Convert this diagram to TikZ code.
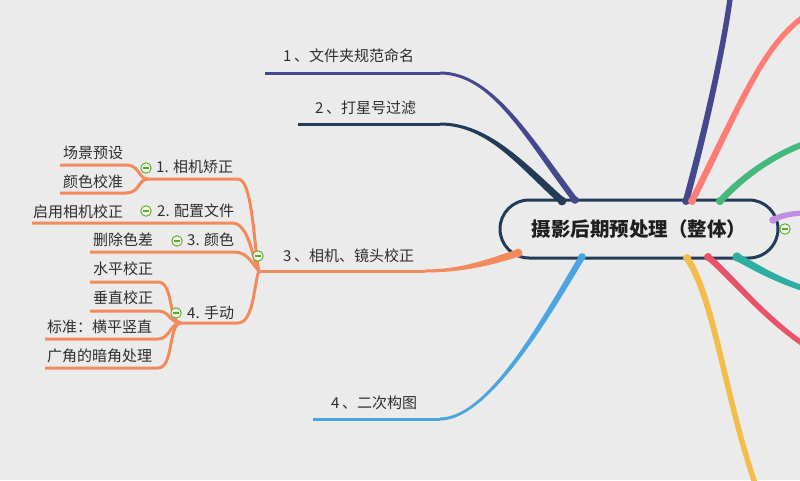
\documentclass[tikz,border=0pt]{standalone}
\usepackage{fontspec}
\setmainfont{Noto Sans CJK SC}
\usetikzlibrary{calc}
\definecolor{bg}{HTML}{EBEBEB}
\definecolor{navy}{HTML}{243B58}
\definecolor{indigo}{HTML}{46488E}
\definecolor{orng}{HTML}{F28A5C}
\definecolor{blu}{HTML}{4AA5E2}
\definecolor{salmon}{HTML}{FF7C74}
\definecolor{grn}{HTML}{45B97C}
\definecolor{lav}{HTML}{BF90E0}
\definecolor{tealb}{HTML}{2DAEA0}
\definecolor{redb}{HTML}{E8526A}
\definecolor{yel}{HTML}{F2BD4B}
\definecolor{txt}{HTML}{2E2E2E}
\definecolor{tog}{HTML}{5EA72E}
\definecolor{togfill}{HTML}{EEF6E6}
% tapered curve: prefix a (start), c, d (controls), b (end at root)
\newcommand\taper[4]{%
  \fill[#1] let \p1=(#2a), \p2=(#2c), \p3=(#2d), \p4=(#2b),
    \n1={atan2(\y2-\y1,\x2-\x1)}, \n2={atan2(\y4-\y3,\x4-\x3)} in
    ($(\p1)+({\n1+90}:#3)$) .. controls ($(\p2)+({\n1+90}:#3)$) and ($(\p3)+({\n2+90}:#4)$) .. ($(\p4)+({\n2+90}:#4)$)
    -- ($(\p4)+({\n2-90}:#4)$) .. controls ($(\p3)+({\n2-90}:#4)$) and ($(\p2)+({\n1-90}:#3)$) .. ($(\p1)+({\n1-90}:#3)$) -- cycle;
  \fill[#1] (#2b) circle[radius=#4+0.8pt];
}
\newcommand\togglebox[2]{%
  \node[toggle] (#1) at (#2) {};
  \draw[tog, line width=1.3pt] ([xshift=2.6pt]#1.west) -- ([xshift=-2.6pt]#1.east);
}
\newcommand\nm[1]{#1\hspace{2.5pt}}
\begin{document}
\begin{tikzpicture}[x=1pt,y=-1pt,
  lbl/.style={font=\fontsize{15}{18}\selectfont, text=txt, inner sep=0pt, anchor=west},
  sub/.style={draw=orng, line width=3pt},
  toggle/.style={circle, draw=tog, line width=0.9pt, fill=togfill, minimum size=10.5pt, inner sep=0pt},
]
\fill[bg] (0,0) rectangle (800,480);
\useasboundingbox (0,0) rectangle (800,480);

% ---------- root ----------
\node[draw=navy, line width=3pt, rounded corners=29pt, minimum width=278pt, minimum height=58pt,
      fill=bg, font=\fontsize{19.5}{23}\selectfont\bfseries, text=black!88] (root) at (639,229) {摄影后期预处理（整体）};

% ---------- left main branches ----------
\coordinate (b1s) at (265,73);  \coordinate (b1a) at (440,73);  \coordinate (b1c) at (492,73);  \coordinate (b1d) at (528,138); \coordinate (b1b) at (575,200);
\coordinate (b2s) at (298,124); \coordinate (b2a) at (440,124); \coordinate (b2c) at (488,124); \coordinate (b2d) at (522,165); \coordinate (b2b) at (562,201);
\coordinate (b3s) at (258,271); \coordinate (b3a) at (425,271); \coordinate (b3c) at (462,271); \coordinate (b3d) at (490,262); \coordinate (b3b) at (518,253);
\coordinate (b4s) at (313,419); \coordinate (b4a) at (440,419); \coordinate (b4c) at (490,419); \coordinate (b4d) at (550,310); \coordinate (b4b) at (582,257);

\draw[indigo, line width=3pt] (b1s) -- (b1a);
\draw[navy, line width=3pt] (b2s) -- (b2a);
\draw[orng, line width=3pt] (b3s) -- (b3a);
\draw[blu, line width=3pt] (b4s) -- (b4a);
\taper{indigo}{b1}{1.5pt}{3pt}
\taper{navy}{b2}{1.5pt}{3.6pt}
\taper{orng}{b3}{1.5pt}{3.6pt}
\taper{blu}{b4}{1.5pt}{3.1pt}

\node[lbl] (t1) at (283,56) {\nm{1}、文件夹规范命名};
\node[lbl] (t2) at (315,108) {\nm{2}、打星号过滤};
\node[lbl] (t3) at (283,256) {\nm{3}、相机、镜头校正};
\node[lbl] (t4) at (331,403) {\nm{4}、二次构图};

% ---------- right main branches ----------
\coordinate (r1a) at (731,-8);  \coordinate (r1c) at (722,60);  \coordinate (r1d) at (700,150); \coordinate (r1b) at (686,201);
\coordinate (r2a) at (812,11);  \coordinate (r2c) at (765,40);  \coordinate (r2d) at (745,95);  \coordinate (r2b) at (692,201);
\coordinate (r3a) at (812,141); \coordinate (r3c) at (770,155); \coordinate (r3d) at (740,180); \coordinate (r3b) at (720,201);
\coordinate (r4a) at (806,213); \coordinate (r4c) at (795,213); \coordinate (r4d) at (781,215); \coordinate (r4b) at (773,220);
\coordinate (r5a) at (812,291); \coordinate (r5c) at (780,282); \coordinate (r5d) at (755,267); \coordinate (r5b) at (737,257);
\coordinate (r6a) at (812,350); \coordinate (r6c) at (765,320); \coordinate (r6d) at (730,275); \coordinate (r6b) at (708,257);
\coordinate (r7a) at (758,492); \coordinate (r7c) at (725,400); \coordinate (r7d) at (715,300); \coordinate (r7b) at (687,258);
\taper{indigo}{r1}{2.7pt}{3.2pt}
\taper{salmon}{r2}{2.7pt}{3.2pt}
\taper{grn}{r3}{3pt}{3.3pt}
\taper{lav}{r4}{2.6pt}{3pt}
\taper{tealb}{r5}{2.8pt}{3.8pt}
\taper{redb}{r6}{2.6pt}{3.2pt}
\taper{yel}{r7}{2.7pt}{3.2pt}

\togglebox{tgr}{785,229}

% ---------- sub branches of 3 ----------
\coordinate (J) at (259,271);
\coordinate (h1) at (148,179);
\coordinate (h4) at (181,323);
\coordinate (s2s) at (32,223);
\coordinate (s3s) at (90,252);
\draw[sub] (h1) -- (238,179) .. controls (253,179) and (254,250) .. (J);
\draw[sub] (s2s) -- (232,223) .. controls (249,223) and (252,258) .. (J);
\draw[sub] (s3s) -- (234,252) .. controls (248,252) and (252,264) .. (J);
\draw[sub] (h4) -- (238,323) .. controls (254,323) and (254,282) .. (J);

\coordinate (u1) at (60,165);
\coordinate (u2) at (60,193);
\draw[sub] (u1) -- (126,165) .. controls (140,165) and (138,179) .. (h1);
\draw[sub] (u2) -- (126,193) .. controls (140,193) and (138,179) .. (h1);

\coordinate (v1) at (90,282);
\coordinate (v2) at (90,311);
\coordinate (v3) at (45,339);
\coordinate (v4) at (45,368);
\draw[sub] (v1) -- (158,282) .. controls (174,282) and (168,323) .. (h4);
\draw[sub] (v2) -- (158,311) .. controls (170,311) and (170,323) .. (h4);
\draw[sub] (v3) -- (158,339) .. controls (170,339) and (170,323) .. (h4);
\draw[sub] (v4) -- (158,368) .. controls (174,368) and (168,323) .. (h4);

% labels
\node[lbl] (n1) at (156,167) {1. 相机矫正};
\node[lbl] (n11) at (63,153) {场景预设};
\node[lbl] (n12) at (63,182) {颜色校准};
\node[lbl] (n2) at (157,211) {2. 配置文件};
\node[lbl] (n21) at (33,212) {启用相机校正};
\node[lbl] (n3) at (187,240) {3. 颜色};
\node[lbl] (n31) at (93,240) {删除色差};
\node[lbl] (n4) at (187,313) {4. 手动};
\node[lbl] (n41) at (93,269) {水平校正};
\node[lbl] (n42) at (93,298) {垂直校正};
\node[lbl] (n43) at (47,327) {标准：横平竖直};
\node[lbl] (n44) at (47,356) {广角的暗角处理};

\togglebox{tg1}{146,168}
\togglebox{tg2}{146,211}
\togglebox{tg3}{177,241}
\togglebox{tg4}{176,313}
\togglebox{tg0}{258,256}
\end{tikzpicture}
\end{document}
